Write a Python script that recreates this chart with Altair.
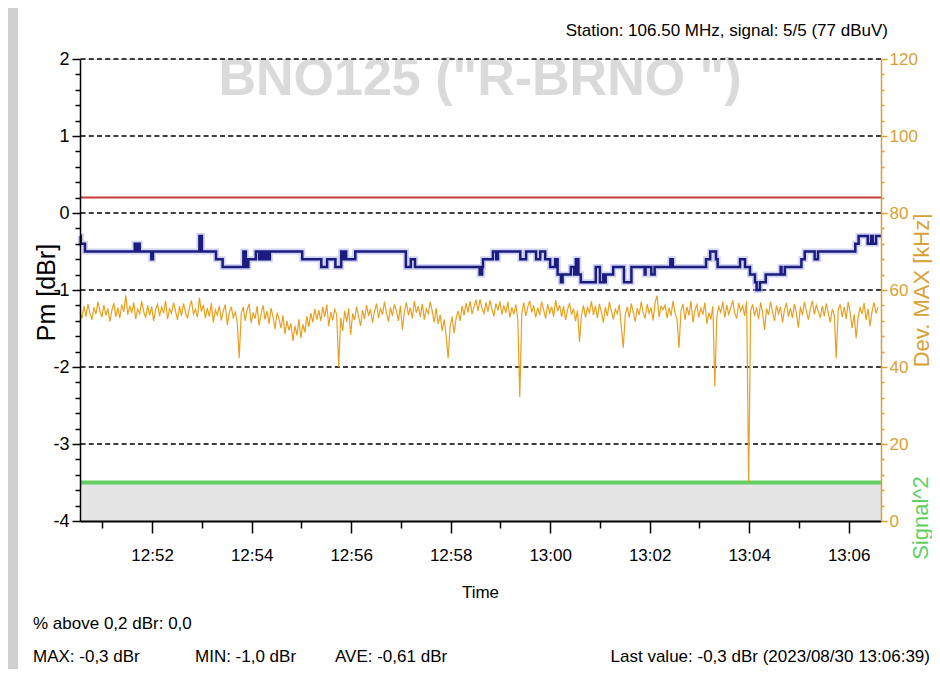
import altair as alt
import pandas as pd

FONT = "Liberation Sans"

START = "2023-08-30 12:50:33"
END = "2023-08-30 13:06:39"

# Pm [dBr] step series: seconds after START, value
blue_sec = [0, 1, 6, 66, 69, 70, 72, 86, 88, 144, 147, 164, 172, 197, 200, 203, 212, 216, 218, 221,
            223, 226, 229, 268, 291, 298, 308, 315, 317, 318, 321, 332, 393, 399, 404, 482, 485, 486,
            498, 502, 504, 531, 538, 550, 555, 561, 567, 573, 576, 580, 582, 592, 596, 598, 601, 604,
            622, 627, 631, 632, 634, 643, 656, 665, 681, 682, 689, 693, 712, 715, 755, 760, 767, 769,
            796, 802, 808, 814, 816, 820, 827, 845, 846, 850, 870, 874, 886, 890, 935, 939, 950, 954,
            956, 960, 966]
blue_val = [-0.3, -0.4, -0.5, -0.4, -0.5, -0.4, -0.5, -0.6, -0.5, -0.3, -0.5, -0.6, -0.7, -0.5, -0.7,
            -0.6, -0.5, -0.6, -0.5, -0.6, -0.5, -0.6, -0.5, -0.6, -0.7, -0.6, -0.7, -0.5, -0.6, -0.5,
            -0.6, -0.5, -0.7, -0.6, -0.7, -0.8, -0.7, -0.6, -0.5, -0.6, -0.5, -0.6, -0.5, -0.6, -0.5,
            -0.6, -0.7, -0.6, -0.8, -0.9, -0.8, -0.7, -0.8, -0.6, -0.8, -0.9, -0.7, -0.9, -0.8, -0.9,
            -0.8, -0.7, -0.9, -0.7, -0.8, -0.7, -0.8, -0.7, -0.6, -0.7, -0.6, -0.5, -0.6, -0.7, -0.6,
            -0.7, -0.8, -0.9, -1.0, -0.9, -0.8, -0.7, -0.8, -0.7, -0.6, -0.5, -0.6, -0.5, -0.4, -0.3,
            -0.4, -0.3, -0.4, -0.3, -0.3]

# Dev. MAX [kHz], one sample every 2.4 s from START
dev_step_sec = 2.4
dev_max = [
    54.2, 52.6, 55.8, 53.1, 56.4, 54.0, 52.3, 55.5, 53.7, 57.0, 54.6, 52.9, 56.1, 53.4, 55.2, 51.8, 54.7, 56.6, 53.0, 55.4,
    52.7, 56.2, 54.3, 58.6, 53.6, 55.9, 54.1, 56.8, 52.5, 55.0, 53.8, 57.1, 54.4, 52.8, 56.0, 53.5, 55.7, 51.9, 54.9, 56.3,
    53.2, 55.6, 54.0, 57.2, 52.4, 55.1, 53.9, 56.7, 54.5, 52.2, 55.8, 53.3, 56.5, 54.2, 52.6, 55.4, 57.3, 53.7, 55.0, 52.9,
    58.0, 54.4, 56.1, 52.7, 55.3, 53.1, 56.6, 51.6, 54.8, 53.5, 55.9, 52.1, 54.6, 56.2, 50.9, 54.0, 55.7, 52.8, 54.3, 51.7,
    42.3, 53.8, 55.6, 52.0, 54.9, 56.4, 51.4, 54.2, 52.6, 55.8, 50.8, 53.7, 56.0, 52.3, 54.5, 51.2, 55.3, 53.0, 49.8, 54.1,
    52.5, 50.1, 53.4, 48.6, 52.0, 49.5, 51.3, 46.8, 50.7, 48.2, 52.4, 47.5, 51.1, 49.0, 53.2, 50.4, 54.0, 51.6, 55.1, 52.3,
    54.8, 51.9, 55.6, 53.0, 56.2, 50.6, 54.3, 52.1, 55.0, 53.6, 40.0, 52.8, 49.4, 54.6, 51.7, 55.3, 48.3, 53.9, 52.2, 55.7,
    53.1, 50.7, 54.8, 52.4, 56.1, 53.3, 55.0, 51.5, 54.4, 56.5, 52.7, 55.2, 53.6, 57.0, 54.0, 51.8, 55.5, 53.2, 56.3, 54.6,
    52.0, 55.9, 49.7, 54.3, 56.8, 53.5, 55.4, 52.6, 57.2, 54.1, 55.8, 53.0, 56.4, 52.3, 55.1, 53.8, 57.0, 54.5, 51.6, 55.3,
    51.2, 53.6, 49.3, 52.4, 48.1, 42.3, 50.5, 53.1, 48.8, 52.7, 54.6, 52.0, 55.9, 53.4, 56.6, 54.2, 57.1, 53.8, 55.7, 57.5,
    54.6, 57.6, 55.2, 53.9, 56.8, 54.4, 57.3, 55.0, 53.2, 56.5, 54.7, 57.0, 53.6, 55.8, 54.1, 56.9, 52.8, 55.5, 53.7, 56.2,
    52.4, 32.2, 54.0, 56.7, 53.3, 55.6, 57.2, 54.2, 56.0, 52.9, 55.4, 53.5, 57.0, 54.8, 52.6, 56.3, 54.0, 55.7, 53.1, 57.4,
    54.5, 56.1, 53.0, 55.8, 52.2, 54.9, 56.6, 53.6, 55.2, 51.9, 54.7, 46.5, 53.4, 56.0, 52.8, 55.5, 54.1, 57.1, 53.5, 55.9,
    52.7, 56.4, 54.3, 51.5, 55.6, 53.2, 56.9, 54.6, 52.4, 55.0, 53.8, 56.2, 50.3, 45.0, 53.6, 55.7, 52.9, 56.5, 54.2, 51.8,
    55.3, 53.5, 57.0, 54.1, 52.6, 56.3, 53.9, 55.5, 52.1, 56.8, 58.5, 53.0, 55.8, 54.9, 56.1, 52.7, 55.4, 53.3, 57.2, 54.0,
    52.5, 45.0, 54.7, 56.4, 52.2, 55.6, 53.4, 57.1, 51.6, 54.8, 56.2, 52.9, 55.3, 53.6, 56.7, 51.2, 54.1, 52.4, 55.8, 35.0,
    53.0, 55.7, 54.2, 57.0, 52.8, 56.1, 53.7, 55.4, 57.3, 54.0, 52.6, 56.6, 54.5, 55.9, 53.3, 57.1, 10.0, 54.6, 56.3, 53.2,
    55.5, 52.4, 56.8, 54.1, 49.6, 55.2, 53.5, 57.0, 54.3, 52.0, 56.0, 53.8, 55.6, 51.5, 54.9, 56.7, 53.1, 55.3, 52.7, 56.4,
    54.0, 50.2, 55.7, 53.4, 56.9, 54.6, 52.3, 55.1, 57.2, 53.7, 56.1, 54.4, 52.8, 55.9, 53.2, 56.5, 54.1, 51.6, 55.0, 53.6,
    42.3, 54.8, 56.3, 53.0, 55.6, 52.5, 56.9, 54.2, 50.1, 53.7, 47.5, 52.9, 55.4, 53.8, 56.6, 52.2, 55.1, 50.6, 54.4, 56.8,
    53.9, 55.6,
]

grid_vals = [-3, -2, -1, 0, 1, 2]
threshold = 0.2
signal_level = -3.5
pm_domain = [-4, 2]
dev_domain = [0, 120]
pm_ticks = [round(-4 + 0.2 * i, 1) for i in range(31)]
dev_ticks = list(range(0, 121, 4))
minute_ticks = [(12 + m // 60, m % 60) for m in range(51, 67)]

title_text = 'BNO125 ("R-BRNO  ")'
station_text = "Station: 106.50 MHz, signal: 5/5 (77 dBuV)"
stats = [
    ("% above 0,2 dBr: 0,0", -47, 565, "left"),
    ("MAX: -0,3 dBr", -47, 598, "left"),
    ("MIN: -1,0 dBr", 115, 598, "left"),
    ("AVE: -0,61 dBr", 255, 598, "left"),
    ("Last value: -0,3 dBr (2023/08/30 13:06:39)", 850, 598, "right"),
]

ORANGE_LINE = "#e9a020"
ORANGE_AXIS = "#d9a034"
NAVY = "#1b1b80"
GREEN = "#62cf62"

t0 = pd.Timestamp(START)
t1 = pd.Timestamp(END)
blue_df = pd.DataFrame({"t": t0 + pd.to_timedelta(blue_sec, unit="s"), "pm": blue_val})
dev_df = pd.DataFrame({
    "t": t0 + pd.to_timedelta([i * dev_step_sec for i in range(len(dev_max))], unit="s"),
    "dev": dev_max,
})
band_df = pd.DataFrame({"t": [t0], "t_end": [t1], "lo": [pm_domain[0]], "hi": [signal_level]})
grid_df = pd.DataFrame({"g": grid_vals})
thr_df = pd.DataFrame({"v": [threshold]})
sig_df = pd.DataFrame({"v": [signal_level]})


def dt(h, m, s=0):
    return alt.DateTime(year=2023, month=8, date=30, hours=h, minutes=m, seconds=s)


x_scale = alt.Scale(domain=[dt(12, 50, 33), dt(13, 6, 39)])
x_axis = alt.Axis(
    values=[dt(h, m) for h, m in minute_ticks],
    labelExpr="minutes(datum.value) % 2 == 0 ? timeFormat(datum.value, '%H:%M') : ''",
    tickSize={"condition": {"test": "minutes(datum.value) % 2 == 0", "value": 12}, "value": 7},
    tickColor="black", tickWidth=1.5, domainColor="black", domainWidth=2,
    labelColor="black", labelFont=FONT, labelFontSize=17, labelPadding=14,
    labelOverlap=False, labelFlush=False, grid=False,
    title="Time", titleFont=FONT, titleFontSize=17, titleFontWeight="normal", titleColor="black",
    titleX=400, titleY=71, titleBaseline="middle", titleAlign="center", zindex=2,
)
x_enc = alt.X("t:T", scale=x_scale, axis=x_axis)

is_int = "abs(datum.value - round(datum.value)) < 0.001"
pm_scale = alt.Scale(domain=pm_domain, nice=False, zero=False)
pm_axis = alt.Axis(
    orient="left", values=pm_ticks,
    labelExpr=f"{is_int} ? '' + round(datum.value) : ''",
    tickSize={"condition": {"test": is_int, "value": 8}, "value": 5},
    tickColor="black", tickWidth=1.5, domainColor="black", domainWidth=1.5,
    labelColor="black", labelFont=FONT, labelFontSize=18, labelPadding=3,
    labelOverlap=False, labelFlush=False, grid=False,
    title="Pm  [dBr]", titleFont=FONT, titleFontSize=25, titleFontWeight="normal", titleColor="black",
    titleAngle=270, titleX=-34, titleY=233, titleAlign="center", titleBaseline="middle", zindex=2,
)
dev_scale = alt.Scale(domain=dev_domain, nice=False, zero=False)
dev_axis = alt.Axis(
    orient="right", values=dev_ticks,
    labelExpr="datum.value % 20 == 0 ? '' + datum.value : ''",
    tickSize={"condition": {"test": "datum.value % 20 == 0", "value": 6}, "value": 3},
    tickColor=ORANGE_AXIS, tickWidth=1.5, domainColor=ORANGE_AXIS, domainWidth=1.5,
    labelColor=ORANGE_AXIS, labelFont=FONT, labelFontSize=17, labelPadding=2,
    labelOverlap=False, labelFlush=False, grid=False,
    title="Dev.  MAX  [kHz]", titleFont=FONT, titleFontSize=22, titleFontWeight="normal",
    titleColor=ORANGE_AXIS, titleAngle=270, titleX=40, titleY=231, titleAlign="center",
    titleBaseline="middle", zindex=2,
)

frame = alt.Chart(pd.DataFrame({"f": [0]})).mark_rect(color="#d0d0d0").encode(
    x=alt.value(-72), x2=alt.value(-62), y=alt.value(-51), y2=alt.value(610)
)

big_title = alt.Chart(pd.DataFrame({"label": [title_text]})).mark_text(
    font=FONT, fontSize=52, fontWeight="bold", color="#dadada", align="center", baseline="alphabetic"
).encode(x=alt.value(400), y=alt.value(36), text="label:N")

band = alt.Chart(band_df).mark_rect(color="#e5e5e5").encode(
    x=x_enc, x2="t_end:T",
    y=alt.Y("lo:Q", scale=pm_scale, axis=None), y2="hi:Q",
)

grid = alt.Chart(grid_df).mark_rule(color="black", strokeWidth=1.6, strokeDash=[5, 3.2]).encode(
    y=alt.Y("g:Q", scale=pm_scale, axis=None)
)

sig_line = alt.Chart(sig_df).mark_rule(color=GREEN, strokeWidth=4).encode(
    y=alt.Y("v:Q", scale=pm_scale, axis=None)
)
thr_line = alt.Chart(thr_df).mark_rule(color="#c83a3a", strokeWidth=2).encode(
    y=alt.Y("v:Q", scale=pm_scale, axis=None)
)

dev_line = alt.Chart(dev_df).mark_line(color=ORANGE_LINE, strokeWidth=1.2).encode(
    x=x_enc, y=alt.Y("dev:Q", scale=dev_scale, axis=dev_axis)
)

blue_halo = alt.Chart(blue_df).mark_line(
    color="#a9b0e6", strokeWidth=6, opacity=0.55, interpolate="step-after"
).encode(x=x_enc, y=alt.Y("pm:Q", scale=pm_scale, axis=None))
blue_line = alt.Chart(blue_df).mark_line(
    color=NAVY, strokeWidth=2.5, interpolate="step-after"
).encode(x=x_enc, y=alt.Y("pm:Q", scale=pm_scale, axis=pm_axis))

station = alt.Chart(pd.DataFrame({"label": [station_text]})).mark_text(
    font=FONT, fontSize=17, color="black", align="right", baseline="middle"
).encode(x=alt.value(808), y=alt.value(-28), text="label:N")

signal_title = alt.Chart(pd.DataFrame({"label": ["Signal^2"]})).mark_text(
    font=FONT, fontSize=22, color=GREEN, align="center", baseline="middle", angle=270
).encode(x=alt.value(841), y=alt.value(459), text="label:N")

stat_layers = [
    alt.Chart(pd.DataFrame({"label": [s]})).mark_text(
        font=FONT, fontSize=17, color="black", align=a, baseline="middle"
    ).encode(x=alt.value(x), y=alt.value(y), text="label:N")
    for s, x, y, a in stats
]

chart = alt.layer(
    frame, big_title, band, grid, sig_line, thr_line, dev_line, blue_halo, blue_line,
    station, signal_title, *stat_layers,
).resolve_scale(y="independent").properties(
    width=801, height=462,
    autosize=alt.AutoSizeParams(type="none"),
    padding={"left": 72, "top": 51, "right": 51, "bottom": 148},
    background="white",
).configure_view(stroke=None).configure(font=FONT)

chart.save("out.html", embed_options={"renderer": "svg", "actions": False})
